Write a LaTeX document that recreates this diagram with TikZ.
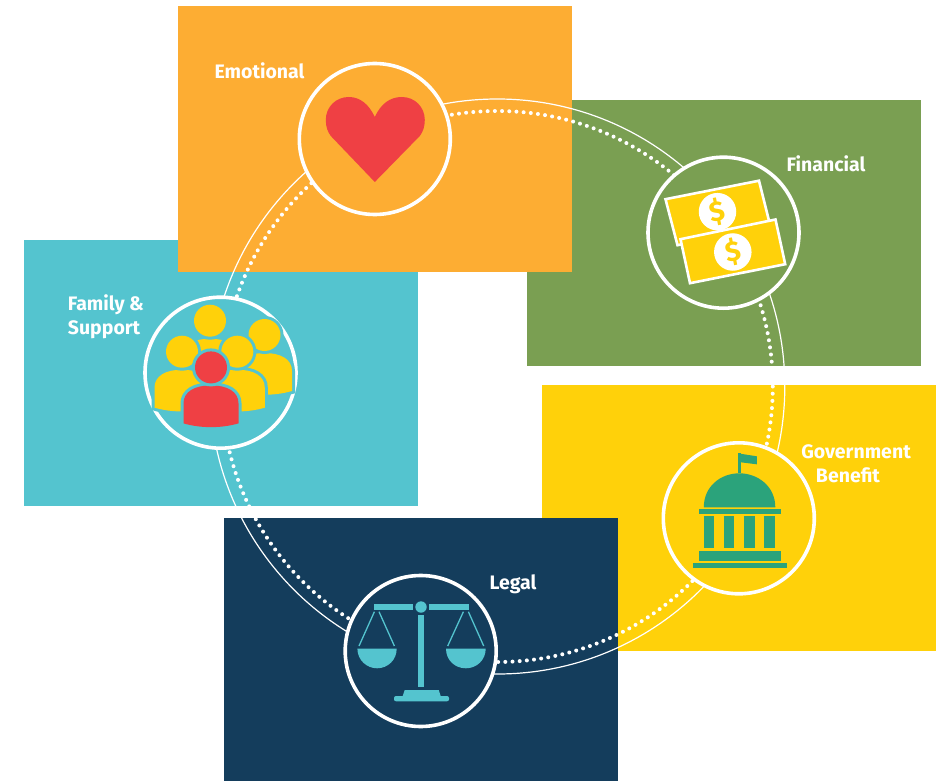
\documentclass[tikz,border=0pt]{standalone}
\usepackage{fontspec}
\setmainfont{Fira Sans}
\usepackage{tikz}
\definecolor{cardorange}{HTML}{FDAD33}
\definecolor{cardgreen}{HTML}{7A9F52}
\definecolor{cardcyan}{HTML}{54C4CF}
\definecolor{cardyellow}{HTML}{FFD10A}
\definecolor{cardnavy}{HTML}{143D5C}
\definecolor{iconred}{HTML}{EF4044}
\definecolor{icongreen}{HTML}{2BA37B}
\tikzstyle{card} = [rectangle, minimum width=394pt, minimum height=266pt, inner sep=0pt]
\tikzstyle{ringnode} = [circle, minimum size=151pt, inner sep=0pt, draw=white, line width=3.6pt]
\tikzstyle{cardtext} = [text=white, font=\fontsize{19.5}{23.5}\selectfont\bfseries, inner sep=0pt]
\tikzstyle{thinring} = [white, line width=1.2pt]
\tikzstyle{dotring} = [white, line width=4pt, line cap=round, dash pattern=on 0pt off 7.2pt]
\tikzstyle{dollar} = [circle, fill=white, minimum size=37.5pt, inner sep=0pt, text=cardyellow, rotate=11, font=\fontsize{28}{28}\selectfont\bfseries]
\tikzstyle{bill} = [fill=cardyellow, draw=white, line width=2.6pt, line join=miter]
\newcommand{\drawperson}[3]{
    \begin{scope}[shift={(#1,#2)}]
        \fill [#3, preaction={draw=cardcyan, line width=6pt}] (-27.5,56) -- (-27.5,36) .. controls (-27.5,24) and (-16,18) .. (0,18) .. controls (16,18) and (27.5,24) .. (27.5,36) -- (27.5,56) .. controls (10,61) and (-10,61) .. cycle;
        \fill [#3, preaction={draw=cardcyan, line width=6pt}] (0,0) circle (16);
    \end{scope}
}

\begin{document}
\begin{tikzpicture}[x=1pt, y=-1pt]
        \clip (0,0) rectangle (943,781);
        \fill [white] (0,0) rectangle (943,781);

        \node (financial) [card, fill=cardgreen] at (723.5,232.7) {};
        \node (family) [card, fill=cardcyan] at (220.5,372.7) {};
        \node (government) [card, fill=cardyellow] at (738.8,518.3) {};
        \node (emotional) [card, fill=cardorange] at (374.8,139) {};
        \node (legal) [card, fill=cardnavy] at (420.7,651) {};

        \coordinate (hub) at (497.3,386.5);
        \draw [thinring] (hub) circle (287.5);
        \draw [dotring] (hub) circle (275.5);

        \node (emotionalring) [ringnode, fill=cardorange] at (emotional) {};
        \node (financialring) [ringnode, fill=cardgreen] at (financial) {};
        \node (familyring) [ringnode, fill=cardcyan] at (family) {};
        \node (governmentring) [ringnode, fill=cardyellow] at (government) {};
        \node (legalring) [ringnode, fill=cardnavy] at (legal) {};

        \node (emotionaltext) [cardtext] at (259.5,71) {Emotional};
        \node (financialtext) [cardtext] at (826,164) {Financial};
        \node (familytext) [cardtext, align=left] at (106,317) {Family \&\\Support};
        \node (governmenttext) [cardtext, align=center] at (856,463.5) {Government\\Benefit\hspace*{16pt}};
        \node (legaltext) [cardtext] at (513,584) {Legal};

        % heart
        \begin{scope}[shift={(emotionalring.center)}]
            \fill [iconred] (0,-22) .. controls (-6,-35) and (-15,-42) .. (-26,-42) .. controls (-39,-42) and (-49,-32) .. (-49,-19) .. controls (-49,-12) and (-47,-7) .. (-44,-3) -- (0,43) -- (45,-3) .. controls (48,-7) and (50,-12) .. (50,-19) .. controls (50,-32) and (40,-42) .. (27,-42) .. controls (15,-42) and (6,-35) .. cycle;
        \end{scope}

        % two bills
        \begin{scope}[shift={(financialring.center)}]
            \draw [bill] (-58,-33.5) -- (35.5,-52) -- (47,-6) -- (-46,12.5) -- cycle;
            \node (backdollar) [dollar] at (-6,-21) {\$};
            \draw [bill] (-43,6.5) -- (52,-13.2) -- (61.7,31.5) -- (-33.5,50.5) -- cycle;
            \node (frontdollar) [dollar] at (9.3,19.3) {\$};
        \end{scope}

        % capitol
        \begin{scope}[shift={(governmentring.center)}, icongreen]
            \fill (-0.5,-65) rectangle (2,-45);
            \fill (2,-64.5) -- (18,-62) -- (18,-54) -- (2,-56) -- cycle;
            \fill (-35,-11) .. controls (-35,-32) and (-18,-45) .. (0.5,-45) .. controls (19,-45) and (36.5,-32) .. (36.5,-11) -- cycle;
            \fill (-40,-9) rectangle (42,-4);
            \foreach \colx in {-35,-15,5.5,25.5}
                \fill (\colx,-2) rectangle ++(10.5,32);
            \fill (-40,33) rectangle (42,43);
            \fill (-46,45) rectangle (48,50);
        \end{scope}

        % scales
        \begin{scope}[shift={(legalring.center)}, cardcyan]
            \fill (-46.7,-47) rectangle (-7.3,-41);
            \fill (8.7,-47) rectangle (48,-41);
            \fill (0.3,-44) circle (5.7);
            \fill (-2.3,-36) rectangle (3.7,36.3);
            \fill (-18,45) -- (-16,39) -- (18,39) -- (20,45) -- cycle;
            \fill [rounded corners=2pt] (-26.7,45) rectangle (28.3,50.3);
            \draw [line width=1.3pt] (-46.3,-39.3) -- (-61.7,-5);
            \draw [line width=1.3pt] (-41.7,-39.3) -- (-26.3,-5);
            \draw [line width=1.3pt] (42.7,-39.3) -- (27,-5);
            \draw [line width=1.3pt] (47.7,-39.3) -- (63,-5);
            \fill (-63.3,-2.3) -- (-24,-2.3) .. controls (-24,9) and (-33,17.3) .. (-43.6,17.3) .. controls (-54,17.3) and (-63.3,9) .. cycle;
            \fill (25.3,-2.3) -- (65,-2.3) .. controls (65,9) and (56,17.3) .. (45.2,17.3) .. controls (34,17.3) and (25.3,9) .. cycle;
        \end{scope}

        % people
        \begin{scope}[shift={(familyring.center)}]
            \drawperson{-10.5}{-52}{cardyellow}
            \drawperson{44}{-37.7}{cardyellow}
            \drawperson{-38.5}{-21}{cardyellow}
            \drawperson{16.8}{-21}{cardyellow}
            \drawperson{-9.5}{-5.3}{iconred}
        \end{scope}
    \end{tikzpicture}
\end{document}
